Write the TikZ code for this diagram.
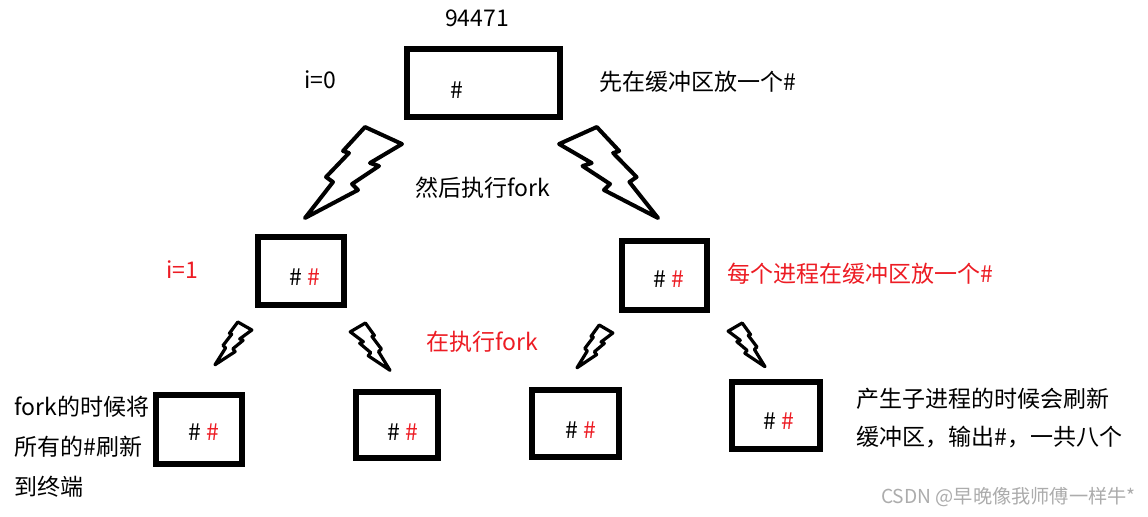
\documentclass[tikz,border=0pt]{standalone}
\usepackage{fontspec}
\setmainfont{Noto Sans CJK SC}
\usepackage{tikz}
\usepackage{xcolor}
\definecolor{forkred}{RGB}{237, 28, 36}
\definecolor{markgray}{RGB}{172, 172, 172}

\begin{document}
\begin{tikzpicture}[x=0.5pt, y=-0.5pt,
    every node/.style={font=\fontsize{11.5pt}{20pt}\selectfont, inner sep=0pt},
    box/.style={draw, line width=2.6pt, minimum width=#1},
    bolt/.pic={\draw[line join=round] (60,0) -- (97,17) -- (65,36) -- (74,39) -- (47,57) -- (53,63)
        -- (0,91) -- (28,55) -- (21,50) -- (44,26) -- (38,24) -- cycle;}]
    \useasboundingbox[fill=white] (0,0) rectangle (1148,516);

    % Parent process
    \node (pid) at (477,18) {94471};
    \node[box=76.5pt, minimum height=34pt] (p0) at (483.5,83) {};
    \node (p0h) at (456.5,90) {\#};
    \node (i0) at (320,80) {i=0};
    \node[anchor=west] (buf0) at (599,82) {先在缓冲区放一个\#};

    % First fork
    \pic[line width=2pt] at (305,127) {bolt};
    \pic[line width=2pt, xscale=-1.02] at (658,127) {bolt};
    \node (fork1) at (483,188) {然后执行fork};

    % Children
    \node[box=43pt, minimum height=34pt] (c1) at (301,271) {};
    \node (c1h) at (305,277) {\# \textcolor{forkred}{\#}};
    \node[box=42.5pt, minimum height=34.5pt] (c2) at (664.5,275.5) {};
    \node (c2h) at (669,279) {\# \textcolor{forkred}{\#}};
    \node[text=forkred] (i1) at (182,270) {i=1};
    \node[anchor=west, text=forkred] (buf1) at (727,274) {每个进程在缓冲区放一个\#};

    % Second fork
    \pic[line width=1.6pt, xscale=0.38, yscale=0.47] at (215,322) {bolt};
    \pic[line width=1.6pt, xscale=-0.41, yscale=0.52] at (390,323) {bolt};
    \pic[line width=1.6pt, xscale=0.37, yscale=0.47] at (577,325) {bolt};
    \pic[line width=1.6pt, xscale=-0.38, yscale=0.48] at (765,323) {bolt};
    \node[text=forkred] (fork2) at (482,342) {在执行fork};

    % Grandchildren
    \node[box=43pt, minimum height=34.5pt] (g1) at (199,429.5) {};
    \node (g1h) at (204,432) {\# \textcolor{forkred}{\#}};
    \node[box=41pt, minimum height=33pt] (g2) at (397,425) {};
    \node (g2h) at (402.5,432) {\# \textcolor{forkred}{\#}};
    \node[box=43.5pt, minimum height=33.5pt] (g3) at (575.5,423.5) {};
    \node (g3h) at (581,430) {\# \textcolor{forkred}{\#}};
    \node[box=44pt, minimum height=33.5pt] (g4) at (776,415.5) {};
    \node (g4h) at (779,421) {\# \textcolor{forkred}{\#}};

    % Notes
    \node[anchor=west, align=left] (flush) at (14,447) {fork的时候将\\所有的\#刷新\\到终端};
    \node[anchor=west, align=left, font=\fontsize{11.5pt}{19pt}\selectfont] (eight) at (856,418)
        {产生子进程的时候会刷新\\缓冲区，输出\#，一共八个};
    \node[anchor=east, text=markgray, font=\fontsize{9.6pt}{10pt}\selectfont] (mark) at (1136,497)
        {CSDN @早晚像我师傅一样牛*};
\end{tikzpicture}
\end{document}
